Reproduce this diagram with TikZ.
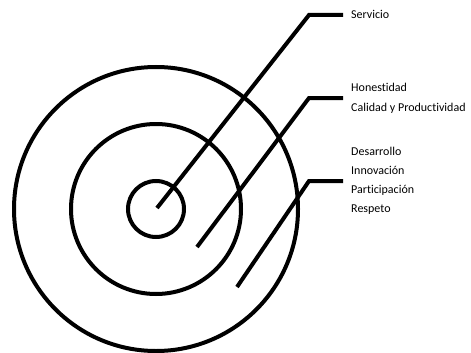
\documentclass[tikz,border=0pt]{standalone}
\usepackage{fontspec}
\setmainfont{Carlito}[RawFeature={-liga}]
\begin{document}
\begin{tikzpicture}[x=1pt,y=-1pt,
  ring/.style={draw=black,line width=4pt},
  leader/.style={draw=black,line width=4pt,line join=miter},
  lbl/.style={anchor=base west,inner sep=0pt,font=\fontsize{12}{14}\selectfont}]
\useasboundingbox (0,0) rectangle (471,353);
\coordinate (c) at (156,209);
\draw[ring] (c) circle[radius=28];
\draw[ring] (c) circle[radius=85];
\draw[ring] (c) circle[radius=142];
% labels
\node[lbl] (s1) at (351,19) {Servicio};
\node[lbl] (h1) at (351,92) {Honestidad};
\node[lbl] (h2) at (351,111) {Calidad y Productividad};
\node[lbl] (d1) at (351,155) {Desarrollo};
\node[lbl] (d2) at (351,174) {Innovación};
\node[lbl] (d3) at (351,193) {Participación};
\node[lbl] (d4) at (351,212) {Respeto};
% leader lines
\coordinate (e1) at (157,208);
\coordinate (k1) at (309,15);
\coordinate (t1) at (343,15);
\coordinate (e2) at (197,247);
\coordinate (k2) at (309,98);
\coordinate (t2) at (343,98);
\coordinate (e3) at (237,287);
\coordinate (k3) at (309,181);
\coordinate (t3) at (343,181);
\draw[leader] (e1) -- (k1) -- (t1);
\draw[leader] (e2) -- (k2) -- (t2);
\draw[leader] (e3) -- (k3) -- (t3);
\end{tikzpicture}
\end{document}
